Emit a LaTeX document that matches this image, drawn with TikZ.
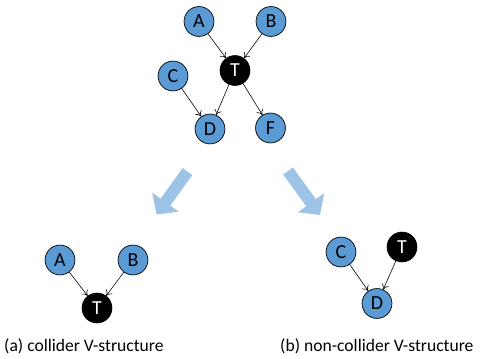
\documentclass[tikz,border=0pt]{standalone}
\usepackage{fontspec}
\setmainfont{Carlito}
\usetikzlibrary{arrows.meta,calc}
\definecolor{nodeblue}{HTML}{5B9BD5}
\definecolor{arrowblue}{HTML}{9DC3E6}
\tikzset{
	var/.style={circle, draw=black, line width=0.6pt, fill=nodeblue, minimum size=25.5pt, inner sep=0pt, font=\fontsize{17}{17}\selectfont},
	target/.style={var, fill=black, text=white},
	edge/.style={-{To[length=4.5pt,width=6.5pt]}, line width=0.5pt},
	bigarrow/.style={line width=10.2pt, color=arrowblue, -{Triangle[length=13pt,width=27pt]}},
	caption/.style={anchor=west, font=\fontsize{15}{17}\selectfont, inner sep=0pt}
}

\begin{document}
\begin{tikzpicture}[x=0.03cm, y=-0.03cm]
			%%%%% START %%%%%
			
			\useasboundingbox (0, 0) rectangle (480, 358);
			
			% full graph
			\node[var] (A) at (199, 21.5) {A};
			\node[var] (B) at (271, 21.5) {B};
			\node[target] (T) at (235, 70.5) {T};
			\node[var] (C) at (173, 76) {C};
			\node[var] (D) at (210, 129) {D};
			\node[var] (F) at (270.5, 128) {F};
			
			\draw[edge] (A) -- (T);
			\draw[edge] (B) -- (T);
			\draw[edge] (C) -- (D);
			\draw[edge] (T) -- (D);
			\draw[edge] (T) -- (F);
			
			% the two big arrows
			\draw[bigarrow] (187.5, 171.5) -- (156.5, 214.5);
			\draw[bigarrow] (288, 171) -- (320, 215);
			
			% (a) collider
			\node[var] (aA) at (60, 260) {A};
			\node[var] (aB) at (133, 260) {B};
			\node[target] (aT) at (97, 308) {T};
			
			\draw[edge] (aA) -- (aT);
			\draw[edge] (aB) -- (aT);
			
			% (b) non-collider
			\node[var] (bC) at (341, 252) {C};
			\node[target] (bT) at (402, 247) {T};
			\node[var] (bD) at (377, 303.5) {D};
			
			\draw[edge] (bC) -- (bD);
			\draw[edge] (bT) -- (bD);
			
			\node[caption] (capa) at (4, 346.5) {(a) collider V-structure};
			\node[caption] (capb) at (280, 346.5) {(b) non-collider V-structure};
			
			%%%%% END %%%%%
\end{tikzpicture}
\end{document}
